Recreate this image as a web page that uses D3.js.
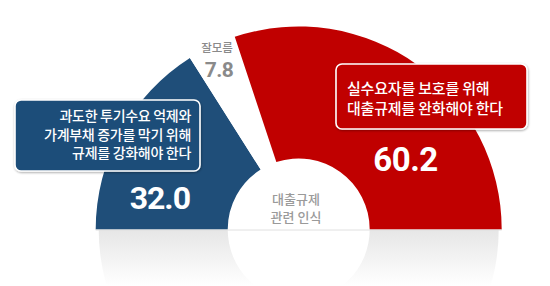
<!DOCTYPE html>
<html>
<head>
<meta charset="utf-8">
<script src="https://cdn.jsdelivr.net/npm/d3@7"></script>
<style>
  html, body { margin: 0; padding: 0; background: #fff; }
  svg { display: block; }
  .kr { font-family: "Noto Sans CJK KR", "Noto Sans", sans-serif; }
  .num { font-family: Roboto, "Liberation Sans", sans-serif; font-weight: 700; }
</style>
</head>
<body>
<svg width="550" height="286"></svg>
<script>
// data
var categories = ["강화", "잘모름", "완화"];
var values = [32.0, 7.8, 60.2];
var valueLabels = ["32.0", "7.8", "60.2"];
var boxLines = [
  ["과도한 투기수요 억제와", "가계부채 증가를 막기 위해", "규제를 강화해야 한다"],
  ["잘모름"],
  ["실수요자를 보호를 위해", "대출규제를 완화해야 한다"]
];
var centerLines = ["대출규제", "관련 인식"];

// layout
var width = 550, height = 286;
var cx = 298.7, cy = 229.5;
var outerR = 203, innerR = 71;
var colors = ["#1f4e79", "#ffffff", "#c00000"];

var svg = d3.select("svg");
var defs = svg.append("defs");

var grad = defs.append("linearGradient")
    .attr("id", "refl").attr("gradientUnits", "userSpaceOnUse")
    .attr("x1", 0).attr("y1", 0).attr("x2", 0).attr("y2", 56);
grad.append("stop").attr("offset", "0%").attr("stop-color", "#e6e6e6");
grad.append("stop").attr("offset", "100%").attr("stop-color", "#ffffff");

var shadow = defs.append("filter").attr("id", "shadow")
    .attr("x", "-10%").attr("y", "-10%").attr("width", "120%").attr("height", "130%");
shadow.append("feDropShadow").attr("dx", 0.5).attr("dy", 1).attr("stdDeviation", 1.2)
    .attr("flood-color", "#000").attr("flood-opacity", 0.35);

var pie = d3.pie().sort(null).value(function(d){ return d; })
    .startAngle(-Math.PI / 2).endAngle(Math.PI / 2);
var arcs = pie(values);
var arc = d3.arc().innerRadius(innerR).outerRadius(outerR);

var g = svg.append("g").attr("transform", "translate(" + cx + "," + cy + ")");

//Reflection under the half donut
var reflArc = d3.arc().innerRadius(0).outerRadius(outerR - 3)
    .startAngle(Math.PI / 2).endAngle(Math.PI * 1.5);
g.append("path").attr("d", reflArc()).attr("fill", "url(#refl)");
g.append("circle").attr("r", innerR).attr("fill", "#fff");

//Slices
g.selectAll("path.slice").data(arcs).enter().append("path")
    .attr("class", "slice")
    .attr("d", arc)
    .attr("fill", function(d, i){ return colors[i]; });

//Baseline
g.append("line").attr("x1", -outerR).attr("x2", outerR).attr("y1", 0.5).attr("y2", 0.5)
    .attr("stroke", "#e0e0e0").attr("stroke-width", 1);

//Label boxes
function box(x, y, w, h, fill) {
    svg.append("rect").attr("x", x).attr("y", y).attr("width", w).attr("height", h)
        .attr("rx", 6).attr("ry", 6)
        .attr("fill", fill).attr("stroke", "#fff").attr("stroke-width", 1.6)
        .attr("filter", "url(#shadow)");
}

box(15, 100, 185, 71, colors[0]);
boxLines[0].forEach(function(t, i){
    svg.append("text").attr("class", "kr")
        .attr("x", 191).attr("y", 121 + i * 18.5)
        .attr("text-anchor", "end")
        .attr("font-size", 14).attr("font-weight", 500)
        .attr("letter-spacing", -0.3)
        .attr("fill", "#fff").text(t);
});
svg.append("text").attr("class", "num")
    .attr("x", 190).attr("y", 208.5).attr("text-anchor", "end")
    .attr("font-size", 32).attr("letter-spacing", -1)
    .attr("fill", "#fff").text(valueLabels[0]);

//Unknown
svg.append("text").attr("class", "kr")
    .attr("x", 217).attr("y", 51.5).attr("text-anchor", "middle")
    .attr("font-size", 11.5).attr("font-weight", 500).attr("fill", "#8a8a8a")
    .text(boxLines[1][0]);
svg.append("text").attr("class", "num")
    .attr("x", 219).attr("y", 76.7).attr("text-anchor", "middle")
    .attr("font-size", 21).attr("letter-spacing", -0.5)
    .attr("fill", "#8a8a8a").text(valueLabels[1]);

box(336, 64, 191, 65, colors[2]);
boxLines[2].forEach(function(t, i){
    svg.append("text").attr("class", "kr")
        .attr("x", 347).attr("y", 94 + i * 20)
        .attr("font-size", 15).attr("font-weight", 500)
        .attr("letter-spacing", -0.2)
        .attr("fill", "#fff").text(t);
});
svg.append("text").attr("class", "num")
    .attr("x", 405.5).attr("y", 171).attr("text-anchor", "middle")
    .attr("font-size", 33).attr("letter-spacing", -0.5)
    .attr("fill", "#fff").text(valueLabels[2]);

//Center text
centerLines.forEach(function(t, i){
    svg.append("text").attr("class", "kr")
        .attr("x", 296).attr("y", 204 + i * 18)
        .attr("text-anchor", "middle")
        .attr("font-size", 13).attr("font-weight", 500)
        .attr("fill", "#9a9a9a").text(t);
});
</script>
</body>
</html>
